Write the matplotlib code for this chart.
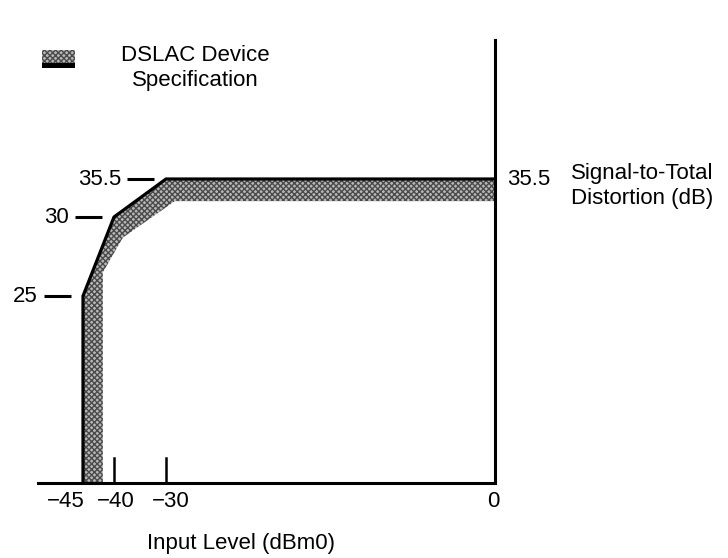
import matplotlib.pyplot as plt
import numpy as np
from matplotlib.patches import Polygon, Rectangle
from matplotlib.transforms import offset_copy

plt.rcParams['font.family'] = ['Liberation Sans', 'DejaVu Sans']

# spec line (upper edge of the band)
spec_x = [-45, -45, -40, -30, 0]
spec_y = [0, 25, 30, 35.5, 35.5]
# lower / inner edge of the shaded band
band_x = [0, -29.2, -38.3, -41.8, -41.8]
band_y = [32.3, 32.3, 28.7, 26.5, 0]
# labelled breakpoints
kink_x = [-45, -40, -30]
kink_y = [25, 30, 35.5]
kink_lbl = ['25', '30', '35.5']
xtick_vals = [-45, -40, -30, 0]
xtick_lbl = ['\u221245', '\u221240', '\u221230', '0']
minor_ticks = [-40, -30]

# the drawing is not to scale: piecewise axis (data value -> pixel)
x_anchor = [-100, -50, -45, -40, -30, 0, 100]
x_pix = [-412, 38, 83, 114, 166, 495, 1592]
y_anchor = [-50, 0, 25, 30, 35.5, 45, 100]
y_pix = [-299, 75, 262, 341, 379, 518, 1321]


def fx(v):
    return np.interp(v, x_anchor, x_pix)


def ix(p):
    return np.interp(p, x_pix, x_anchor)


def fy(v):
    return np.interp(v, y_anchor, y_pix)


def iy(p):
    return np.interp(p, y_pix, y_anchor)


FS = 16
fig = plt.figure(figsize=(7.28, 5.58), dpi=100)
ax = fig.add_axes([0, 0, 1, 1])
ax.set_xscale('function', functions=(fx, ix))
ax.set_yscale('function', functions=(fy, iy))
ax.set_xlim(ix(0), ix(728))
ax.set_ylim(iy(0), iy(558))
ax.axis('off')

# shaded spec band
poly_pts = list(zip(spec_x, spec_y)) + list(zip(band_x, band_y))
ax.add_patch(Polygon(poly_pts, closed=True, facecolor='#b8b8b8', edgecolor='#4a4a4a',
                     hatch='xxxxxx', linewidth=0, zorder=1))
ax.plot(spec_x, spec_y, color='black', linewidth=2.3, solid_joinstyle='miter', zorder=3)

# axes
ax.plot([-50.05, 0, 0], [0, 0, 45], color='black', linewidth=2.2,
        solid_joinstyle='miter', zorder=4)
for t in minor_ticks:
    ax.plot([t, t], [0, iy(fy(0) + 25)], color='black', linewidth=1.8, zorder=4)

# x labels
x_off = [-17, 2, 5, -2]
for v, lbl, o in zip(xtick_vals, xtick_lbl, x_off):
    ax.annotate(lbl, xy=(v, 0), xytext=(o, -18), textcoords='offset pixels',
                ha='center', va='center', fontsize=FS)

ax.text(241 / 728, 1 - 543 / 558, 'Input Level (dBm0)', transform=ax.transAxes,
        ha='center', va='center', fontsize=FS)

# breakpoint dashes and labels
for kx, ky, lbl in zip(kink_x, kink_y, kink_lbl):
    tr0 = offset_copy(ax.transData, fig=fig, x=-39, y=0, units='dots')
    ax.plot([kx, ix(fx(kx) + 27)], [ky, ky], color='black', linewidth=2.2,
            transform=tr0, solid_capstyle='butt')
    ax.annotate(lbl, xy=(kx, ky), xytext=(-45, 0), textcoords='offset pixels',
                ha='right', va='center', fontsize=FS)

ax.annotate('35.5', xy=(0, 35.5), xytext=(12, 0), textcoords='offset pixels',
            ha='left', va='center', fontsize=FS)
ax.text(571 / 728, 1 - 186 / 558, 'Signal-to-Total\nDistortion (dB)',
        transform=ax.transAxes, ha='left', va='center', fontsize=FS, linespacing=1.3)

# legend
ax.add_patch(Rectangle((42 / 728, 1 - 63 / 558), 33 / 728, 13 / 558, transform=ax.transAxes,
                       facecolor='#b8b8b8', edgecolor='#4a4a4a', hatch='xxxxxx', linewidth=0))
ax.add_patch(Rectangle((42 / 728, 1 - 68 / 558), 33 / 728, 5 / 558, transform=ax.transAxes,
                       facecolor='black', linewidth=0))
ax.text(195 / 728, 1 - 68 / 558, 'DSLAC Device\nSpecification', transform=ax.transAxes,
        ha='center', va='center', fontsize=FS, linespacing=1.2)

fig.savefig('out.png', dpi=100)
